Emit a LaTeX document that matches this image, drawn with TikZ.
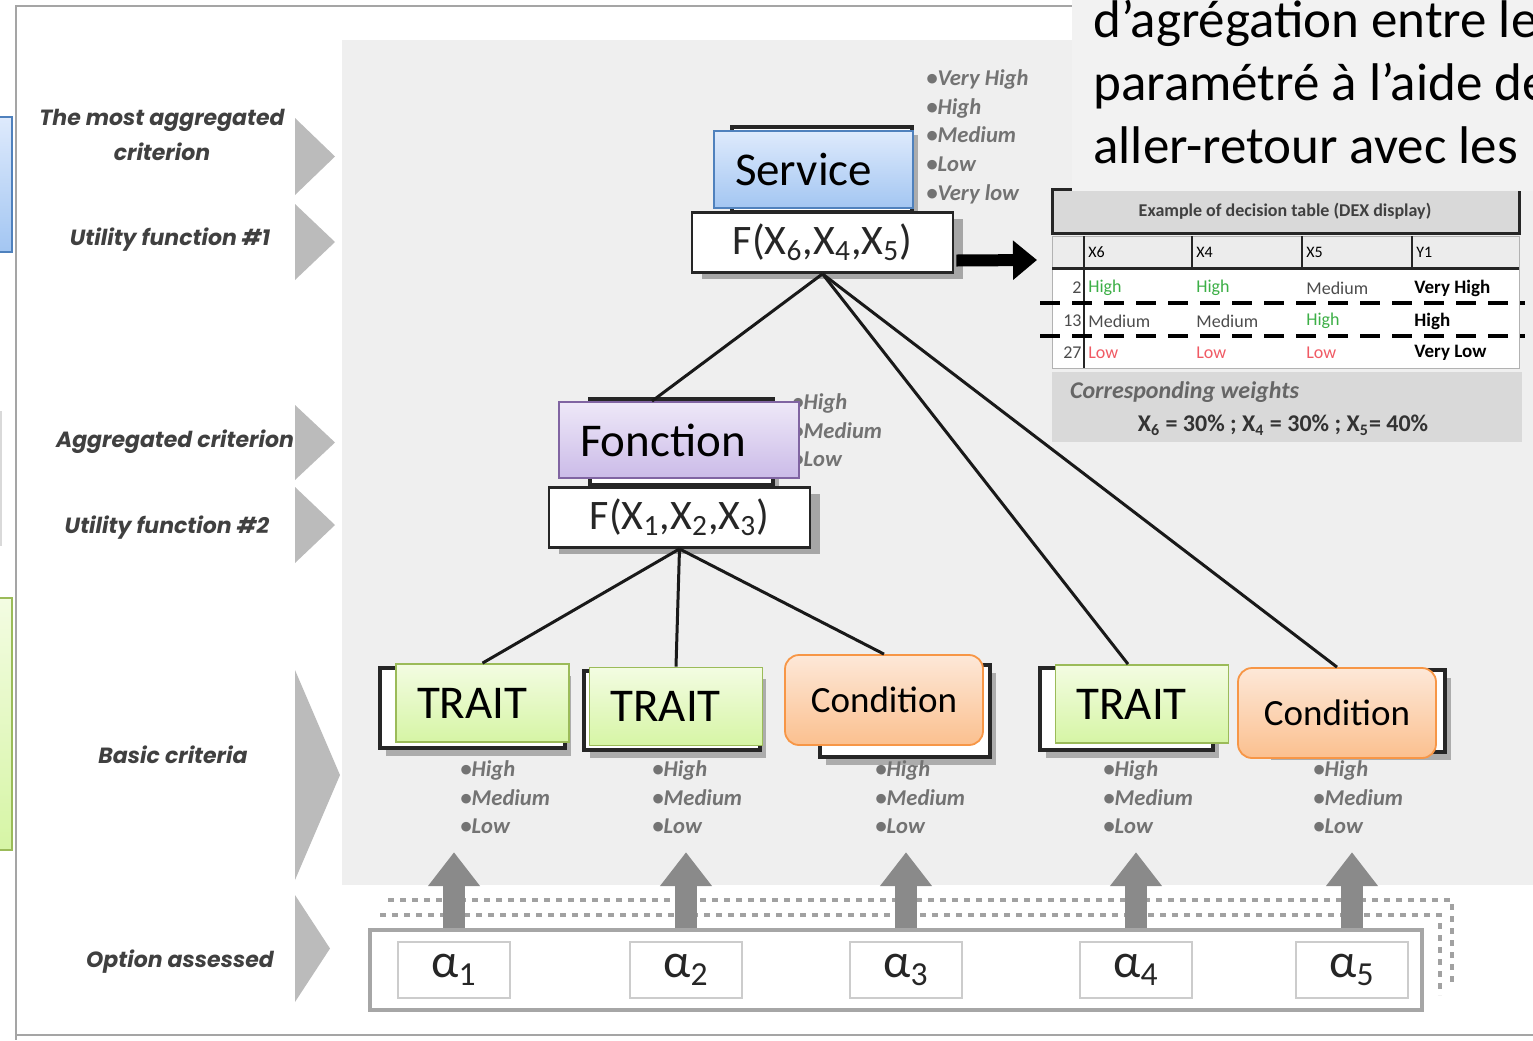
\documentclass[tikz,border=0pt]{standalone}
\usepackage{fontspec}
\setmainfont{Carlito}
\newfontfamily\geofont{Poppins}
\usetikzlibrary{positioning, calc, arrows.meta, shadows}
\definecolor{panelgray}{RGB}{239,239,239}
\definecolor{framegray}{RGB}{165,165,165}
\definecolor{chevgray}{RGB}{187,187,187}
\definecolor{arrowgray}{RGB}{138,138,138}
\definecolor{headgray}{RGB}{217,217,217}
\definecolor{rowgray}{RGB}{236,236,236}
\definecolor{notegray}{RGB}{242,242,242}
\definecolor{servtop}{RGB}{222,234,252}
\definecolor{servbot}{RGB}{163,198,242}
\definecolor{servline}{RGB}{79,129,189}
\definecolor{fonctop}{RGB}{238,232,248}
\definecolor{foncbot}{RGB}{203,187,232}
\definecolor{foncline}{RGB}{128,100,162}
\definecolor{traittop}{RGB}{243,252,226}
\definecolor{traitbot}{RGB}{214,245,165}
\definecolor{traitline}{RGB}{155,187,89}
\definecolor{condtop}{RGB}{253,232,216}
\definecolor{condbot}{RGB}{251,192,143}
\definecolor{condline}{RGB}{247,150,70}
\definecolor{highgreen}{RGB}{60,175,70}
\definecolor{lowred}{RGB}{240,90,100}

\tikzset{
  softshadow/.style={drop shadow={shadow xshift=3pt, shadow yshift=-4pt, opacity=.28, fill=black}},
  backbox/.style={draw=black!85, line width=1.6pt, fill=white, softshadow},
  funcbox/.style={draw=black!85, line width=1.4pt, fill=white, minimum width=130.5pt,
    minimum height=30pt, inner sep=0pt, text=black!85, font=\fontsize{21}{21}\selectfont,
    drop shadow={shadow xshift=5pt, shadow yshift=-3pt, opacity=.3, fill=black}},
  tagbox/.style={draw, line width=.9pt, text width=#1, align=left, inner xsep=10.5pt,
    font=\fontsize{23.5}{26}\selectfont},
  service/.style={tagbox=78.5pt, minimum height=38.5pt, draw=servline, top color=servtop, bottom color=servbot},
  fonction/.style={tagbox=99pt, minimum height=38pt, draw=foncline, top color=fonctop, bottom color=foncbot},
  trait/.style={tagbox=65.5pt, minimum height=39pt, draw=traitline, top color=traittop, bottom color=traitbot},
  condition/.style={draw=condline, line width=.9pt, rounded corners=7pt, minimum width=99pt,
    minimum height=45pt, top color=condtop, bottom color=condbot, font=\fontsize{18.5}{20}\selectfont},
  levels/.style={anchor=north west, inner sep=0pt, align=left, text=black!55,
    font=\bfseries\itshape\fontsize{11.3}{14.4}\selectfont},
  sidelabel/.style={align=center, text=black!75, font=\geofont\bfseries\itshape\fontsize{11}{17.5}\selectfont},
  chevron/.style={fill=chevgray},
  link/.style={draw=black!90, line width=1.5pt},
  uparrow/.style={draw=arrowgray, line width=11pt, -{Triangle[length=17pt, width=25pt]}},
  optbox/.style={draw=black!20, line width=.8pt, fill=white, minimum width=56pt, minimum height=28pt,
    font=\fontsize{24}{24}\selectfont, text=black!85},
  cell/.style={anchor=west, inner sep=0pt, font=\fontsize{9}{9}\selectfont},
  notetext/.style={anchor=base west, inner sep=0pt, font=\fontsize{26.5}{31.5}\selectfont},
}

\begin{document}
\begin{tikzpicture}[x=0.5pt, y=-0.5pt]
\useasboundingbox (0,0) rectangle (1533,1040);
\clip (0,0) rectangle (1533,1040);

% grey working area and outer frame
\fill[panelgray] (342,40) rectangle (1533,885);
\draw[framegray, line width=1pt] (1072,6) -- (16,6) -- (16,1040);
\draw[framegray, line width=1pt] (16,1035) -- (1533,1035);

% coloured tabs cut at the left edge
\draw[servline, line width=.9pt, top color=servtop, bottom color=servbot] (-10,117) rectangle (12,252);
\draw[black!15, line width=.8pt] (-10,412) rectangle (1,545);
\draw[traitline, line width=.9pt, top color=traittop, bottom color=traitbot] (-10,598) rectangle (12,850);

% level names and chevrons
\node[sidelabel] (mostagg) at (162,135) {The most aggregated\\criterion};
\node[sidelabel] (util1) at (170,240) {Utility function \#1};
\node[sidelabel] (agg) at (175,442) {Aggregated criterion};
\node[sidelabel] (util2) at (167,528) {Utility function \#2};
\node[sidelabel] (basic) at (173,755) {Basic criteria};
\node[sidelabel] (option) at (180,962) {Option assessed};
\foreach \ya/\yb/\xt in {118/195/335, 204/280/335, 405/480/335, 487/563/335, 670/880/340, 895/1002/330}
  \fill[chevron] (295,\ya) -- (\xt,{(\ya+\yb)/2}) -- (295,\yb) -- cycle;

% option row
\draw[arrowgray!80, dashed, line width=1.6pt] (388,900) -- (1452,900) -- (1452,985);
\draw[arrowgray!80, dashed, line width=1.6pt] (380,915) -- (1440,915) -- (1440,995);
\node[draw=black!35, line width=1.8pt, fill=white, minimum width=526pt, minimum height=40pt, inner sep=0pt] (opt) at (896,970) {};
\foreach \i/\x in {1/454,2/686,3/906,4/1136,5/1352}
  \node[optbox] (a\i) at (\x,970) {α\textsubscript{\i}};
\foreach \i in {1,...,5}
  \draw[uparrow] (opt.north -| a\i) -- ++(0,-76);

% boxes of the original tree left underneath
\draw[backbox] (732,127) rectangle (912,212);
\draw[backbox] (590,399) rectangle (773,485);
\draw[backbox] (380,668) rectangle (565,748);
\draw[backbox] (584,671) rectangle (760,750);
\draw[backbox] (820,665) rectangle (990,757);
\draw[backbox] (1040,668) rectangle (1213,750);
\draw[backbox] (1265,670) rectangle (1445,752);

% scales of each criterion
\node[levels] (lvserv) at (926,69) {•Very High\\•High\\•Medium\\•Low\\•Very low};
\node[levels] (lvfonc) at (792,393) {•High\\•Medium\\•Low};
\foreach \i/\x in {1/460,2/652,3/875,4/1103,5/1313}
  \node[levels] (lv\i) at (\x,760) {•High\\•Medium\\•Low};

% criteria tree
\node[service] (serv) at (813.5,169.5) {Service};
\node[funcbox] (f6) at (822.5,242.5) {F(X\textsubscript{6},X\textsubscript{4},X\textsubscript{5})};
\node[fonction] (fonc) at (679,440) {Fonction};
\node[funcbox] (f123) at (679.5,517.5) {F(X\textsubscript{1},X\textsubscript{2},X\textsubscript{3})};
\node[trait] (trait1) at (482.5,703) {TRAIT};
\node[trait] (trait2) at (676,706.5) {TRAIT};
\node[condition] (cond3) at (884,700) {Condition};
\node[trait] (trait4) at (1142,704) {TRAIT};
\node[condition] (cond5) at (1337,713) {Condition};

\draw[link] (f6.south) -- ($(fonc.north)+(-27,0)$);
\draw[link] (f6.south) -- ($(trait4.north)+(-14,0)$);
\draw[link] (f6.south) -- (cond5.north);
\draw[link] (f123.south) -- (trait1.north);
\draw[link] (f123.south) -- (trait2.north);
\draw[link] (f123.south) -- (cond3.north);

% decision table
\coordinate (tabin) at (1037,260);
\draw[black, line width=6pt, -{Triangle[length=12pt, width=19pt]}] ($(f6.east)+(2,18)$) -- (tabin);
\draw[black!85, line width=1.5pt, fill=headgray] (1052,189) rectangle (1519,233);
\node[font=\bfseries\fontsize{9}{9}\selectfont, text=black!75] (tabtitle) at (1285,211) {Example of decision table (DEX display)};
\fill[rowgray] (1052,236) rectangle (1519,268);
\fill[white] (1052,270) rectangle (1519,368);
\draw[black!30] (1052,236) rectangle (1519,368);
\draw[black!85, line width=1.5pt] (1052,268) -- (1519,268);
\draw[black!85, line width=1.2pt] (1084,236) -- (1084,368);
\foreach \x in {1192,1302,1412}
  \draw[black!85, line width=1.2pt] (\x,236) -- (\x,268);
\foreach \x/\h in {1088/X6,1196/X4,1306/X5,1416/Y1}
  \node[cell, font=\fontsize{8}{8}\selectfont] (col\h) at (\x,252) {\h};
\foreach \rw/\num/\va/\ka/\vb/\kb/\vc/\kc/\vd in
  {288/2/High/highgreen/High/highgreen/Medium/black!70/Very High,
   321/13/Medium/black!70/Medium/black!70/High/highgreen/High,
   353/27/Low/lowred/Low/lowred/Low/lowred/Very Low}
{
  \node[cell, anchor=east, text=black!70] (num\num) at (1082,\rw) {\num};
  \node[cell, text=\ka] (xa\num) at (1088,\rw) {\va};
  \node[cell, text=\kb] (xb\num) at (1196,\rw) {\vb};
  \node[cell, text=\kc] (xc\num) at (1306,\rw) {\vc};
  \node[cell, font=\bfseries\fontsize{9.5}{9.5}\selectfont] (ya\num) at (1414,\rw) {\vd};
}
\draw[black, line width=1.6pt, dash pattern=on 10pt off 6pt] (1040,303) -- (1525,303);
\draw[black, line width=1.6pt, dash pattern=on 10pt off 6pt] (1040,336) -- (1525,336);
\fill[headgray] (1052,372) rectangle (1522,442);
\node[anchor=west, font=\bfseries\itshape\fontsize{12}{12}\selectfont, text=black!60] (wtitle) at (1063,392) {Corresponding weights};
\node[font=\bfseries\fontsize{12}{12}\selectfont, text=black!80] (wvalues) at (1283,425)
  {X\textsubscript{6} = 30\% ; X\textsubscript{4} = 30\% ; X\textsubscript{5}= 40\%};

% text box laid over the corner
\fill[notegray] (1072,0) rectangle (1533,191);
\foreach \i/\yb/\txt in {1/37/{d’agrégation entre le}, 2/100/{paramétré à l’aide de}, 3/163/{aller-retour avec les}}
  \node[notetext] (note\i) at (1093,\yb) {\txt};
\end{tikzpicture}
\end{document}
